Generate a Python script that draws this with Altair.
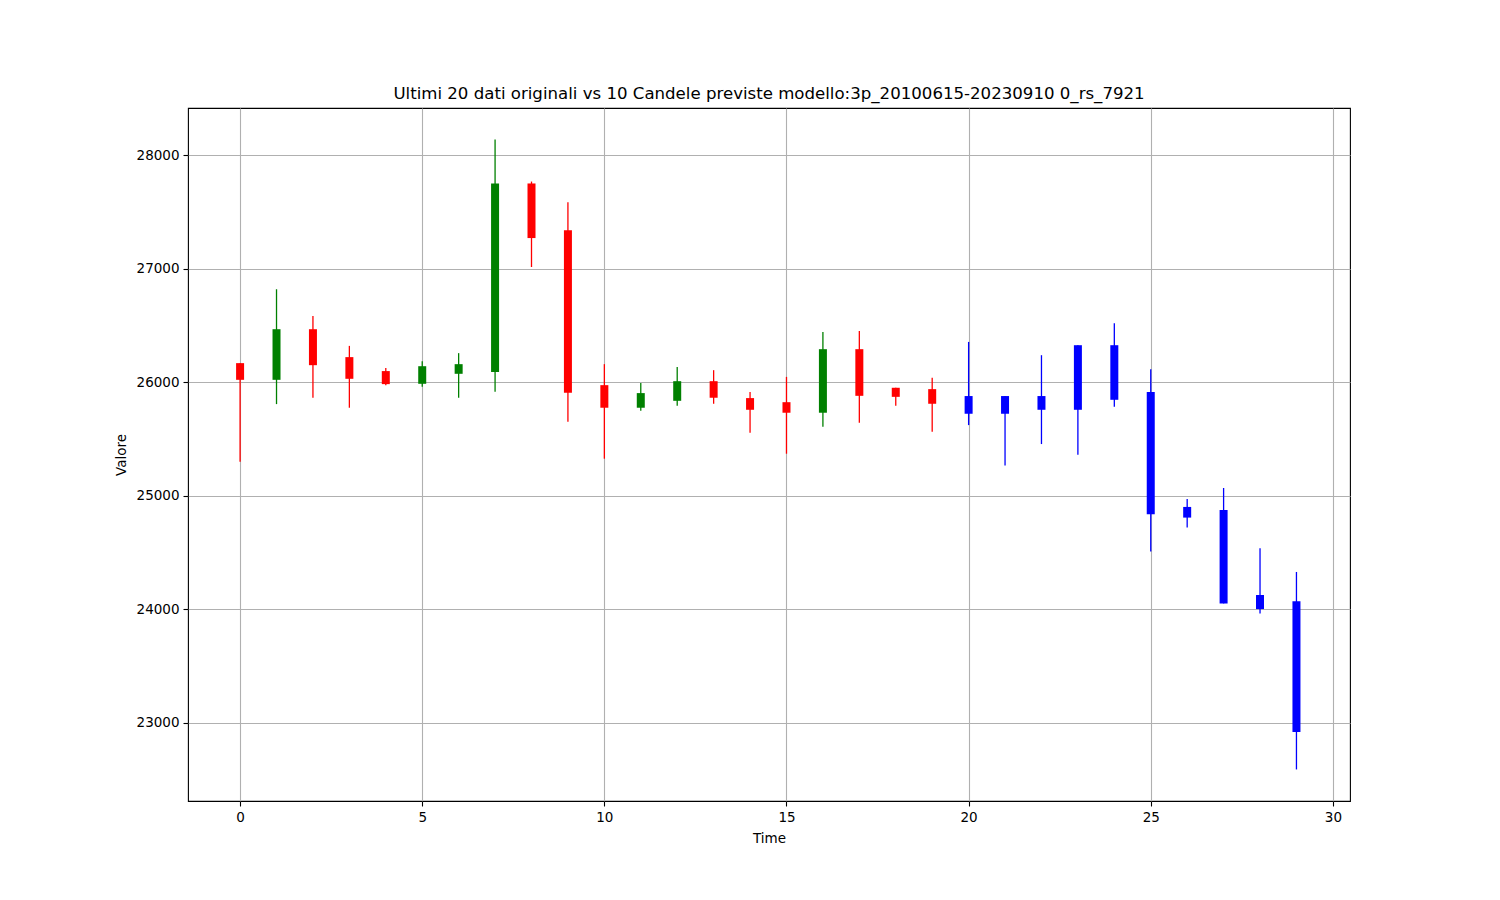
import altair as alt
import pandas as pd

time = list(range(30))
open_ = [26170, 26023, 26469, 26223, 26100, 25988, 26076, 26093, 27753, 27340,
         25976, 25777, 25838, 26011, 25862, 25826, 25733, 26293, 25953, 25941,
         25880, 25880, 25880, 26328, 26328, 25915, 24903, 24877, 24127, 24073]
close = [26023, 26469, 26152, 26032, 25985, 26143, 26161, 27753, 27272, 25909,
         25777, 25906, 26011, 25865, 25759, 25733, 26293, 25882, 25873, 25812,
         25724, 25724, 25759, 25759, 25847, 24838, 24809, 24053, 24003, 22921]
high = [26170, 26821, 26586, 26322, 26128, 26187, 26258, 28140, 27770, 27588,
        26161, 25994, 26135, 26108, 25915, 26049, 26445, 26454, 25953, 26041,
        26357, 25880, 26240, 26328, 26522, 26117, 24974, 25070, 24539, 24330]
low = [25302, 25809, 25865, 25777, 25976, 25961, 25865, 25917, 27017, 25653,
       25328, 25750, 25794, 25812, 25557, 25372, 25610, 25645, 25794, 25566,
       25624, 25267, 25457, 25363, 25786, 24510, 24721, 24053, 23965, 22590]
kind = (["orig"] * 20) + (["pred"] * 10)

rows = []
for i in range(30):
    if kind[i] == "pred":
        k = "previsione"
    elif close[i] >= open_[i]:
        k = "rialzo"
    else:
        k = "ribasso"
    rows.append({"Time": time[i], "open": open_[i], "close": close[i],
                 "high": high[i], "low": low[i], "tipo": k})
df = pd.DataFrame(rows)

color = alt.Color("tipo:N", legend=None,
                  scale=alt.Scale(domain=["rialzo", "ribasso", "previsione"],
                                  range=["#008000", "#ff0000", "#0000ff"]))

xenc = alt.X("Time:Q", title="Time",
             scale=alt.Scale(domain=[-1.43, 30.47], nice=False, zero=False, padding=0),
             axis=alt.Axis(values=[0, 5, 10, 15, 20, 25, 30], format="d"))
yscale = alt.Scale(domain=[22312, 28418], nice=False, zero=False, padding=0)
yaxis = alt.Axis(values=[23000, 24000, 25000, 26000, 27000, 28000], format="d")

base = alt.Chart(df)
wick = base.mark_rule(strokeWidth=1.3).encode(
    x=xenc,
    y=alt.Y("low:Q", title="Valore", scale=yscale, axis=yaxis),
    y2="high:Q",
    color=color,
)
body = base.mark_bar(size=8).encode(
    x=xenc,
    y=alt.Y("open:Q", title="Valore", scale=yscale, axis=yaxis),
    y2="close:Q",
    color=color,
)

chart = (wick + body).properties(
    width=1162,
    height=693,
    title=alt.TitleParams(
        "Ultimi 20 dati originali vs 10 Candele previste modello:3p_20100615-20230910 0_rs_7921",
        font="DejaVu Sans", fontSize=16.6, fontWeight="normal", color="black",
        anchor="middle", offset=5,
    ),
    autosize=alt.AutoSizeParams(type="none"),
    padding={"left": 180, "top": 100, "right": 142, "bottom": 91},
).configure_view(
    stroke="black", strokeWidth=1.1
).configure_axis(
    grid=True, gridColor="#b0b0b0", gridWidth=1.1, gridOpacity=1,
    domain=False, tickColor="black", tickSize=5, tickWidth=1.1,
    labelFont="DejaVu Sans", labelFontSize=13.5, labelColor="black", labelPadding=4,
    titleFont="DejaVu Sans", titleFontSize=13.5, titleFontWeight="normal",
    titleColor="black", titlePadding=8,
)

chart.save("out.html", embed_options={"renderer": "svg", "actions": False})
